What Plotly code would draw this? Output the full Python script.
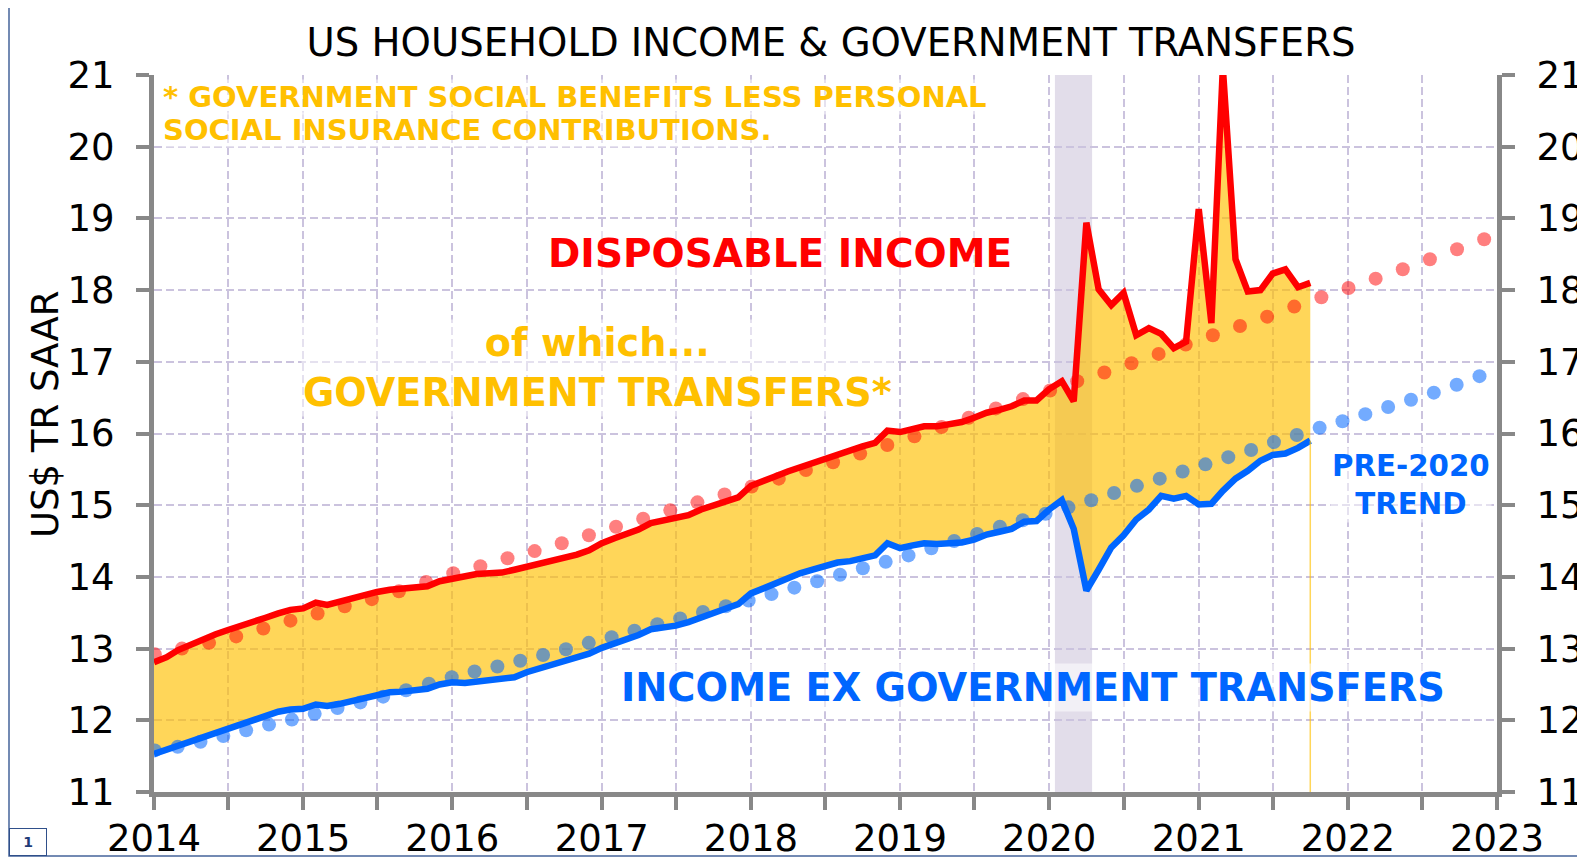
import plotly.graph_objects as go
import pandas as pd

# ---------------- data ----------------
START_MONTH = "2014-01-01"
disposable_income = [
    12.81, 12.88, 12.98, 13.06, 13.13, 13.20, 13.26, 13.31, 13.37, 13.43, 13.49, 13.54,
    13.56, 13.64, 13.61, 13.66, 13.71, 13.76, 13.79, 13.82, 13.84, 13.86, 13.87, 13.94,
    13.98, 14.01, 14.04, 14.05, 14.06, 14.10, 14.14, 14.18, 14.22, 14.27, 14.31, 14.37,
    14.47, 14.54, 14.60, 14.66, 14.75, 14.78, 14.81, 14.86, 14.94, 15.00, 15.06, 15.11,
    15.27, 15.33, 15.40, 15.47, 15.53, 15.59, 15.65, 15.71, 15.76, 15.82, 15.87, 16.04,
    16.02, 16.07, 16.10, 16.10, 16.13, 16.16, 16.22, 16.29, 16.33, 16.38, 16.46, 16.46,
    16.62, 16.73, 16.45, 18.94, 18.01, 17.79, 17.96, 17.37, 17.47, 17.39, 17.19, 17.28,
    19.13, 17.54, 21.10, 18.43, 17.98, 18.00, 18.23, 18.29, 18.04, 18.10,
]
income_ex_transfers = [
    11.53, 11.59, 11.66, 11.72, 11.78, 11.83, 11.88, 11.94, 12.00, 12.06, 12.12, 12.15,
    12.16, 12.22, 12.20, 12.23, 12.27, 12.32, 12.36, 12.39, 12.40, 12.42, 12.44, 12.50,
    12.53, 12.52, 12.54, 12.56, 12.57, 12.60, 12.67, 12.72, 12.77, 12.82, 12.87, 12.93,
    13.01, 13.07, 13.13, 13.19, 13.27, 13.29, 13.32, 13.37, 13.44, 13.50, 13.56, 13.62,
    13.77, 13.84, 13.91, 13.98, 14.05, 14.10, 14.15, 14.20, 14.22, 14.26, 14.30, 14.47,
    14.40, 14.44, 14.47, 14.46, 14.47, 14.48, 14.52, 14.59, 14.63, 14.67, 14.77, 14.78,
    14.94, 15.07, 14.67, 13.81, 14.10, 14.41, 14.58, 14.80, 14.94, 15.13, 15.09, 15.13,
    15.01, 15.02, 15.20, 15.37, 15.48, 15.62, 15.70, 15.72, 15.80, 15.90,
]
# pre-2020 trend lines, read dot by dot
TREND_START = "2014-01-03"
trend_disposable = [
    12.92, 13.00, 13.08, 13.17, 13.28, 13.39, 13.49, 13.59, 13.69, 13.80, 13.93,
    14.05, 14.15, 14.26, 14.36, 14.47, 14.58, 14.70, 14.81, 14.93, 15.04, 15.15,
    15.26, 15.37, 15.49, 15.60, 15.72, 15.84, 15.96, 16.09, 16.22, 16.35, 16.48, 16.60,
    16.73, 16.85, 16.98, 17.11, 17.24, 17.37, 17.50, 17.63, 17.77,
    17.90, 18.03, 18.16, 18.29, 18.43, 18.57, 18.71,
]
trend_ex_transfers = [
    11.58, 11.63, 11.70, 11.78, 11.86, 11.94, 12.01, 12.09, 12.17, 12.25, 12.33, 12.42, 12.51,
    12.60,
    12.68, 12.75, 12.83, 12.91, 12.99, 13.08, 13.16, 13.25, 13.34, 13.42, 13.51, 13.59,
    13.67, 13.76, 13.85, 13.94, 14.03, 14.12, 14.21, 14.30, 14.40, 14.50, 14.60, 14.70, 14.79, 14.88,
    14.97, 15.07, 15.17, 15.27, 15.37, 15.47, 15.57, 15.67, 15.77, 15.88, 15.98,
    16.08, 16.17, 16.27, 16.37, 16.47, 16.57, 16.68, 16.80,
]
year_labels = ["2014", "2015", "2016", "2017", "2018", "2019", "2020", "2021", "2022", "2023"]
y_range = [11, 21]
recession = ("2020-01-15", "2020-04-15")
footnote_lines = ["* GOVERNMENT SOCIAL BENEFITS LESS PERSONAL", "SOCIAL INSURANCE CONTRIBUTIONS."]

# ---------------- styles ----------------
RED = "#FF0000"
BLUE = "#0066FF"
GOLD = "#FFC000"
FILL = "rgba(255,192,0,0.65)"
GRID = "#CBC3DE"
AXIS = "#888888"
FONT = "DejaVu Sans"
PAGE_OFFSET = 8          # default body margin of the html page
FIG_W, FIG_H = 1585 - PAGE_OFFSET, 858 - PAGE_OFFSET
# plot area wanted in page pixels: x 154..1497, y 75..792
PL, PR, PT, PB = 154, 1497, 75, 792

months = pd.date_range(START_MONTH, periods=len(disposable_income), freq="MS")
trend_d_dates = pd.date_range(TREND_START, periods=len(trend_disposable), freq=pd.Timedelta(days=66.4))
trend_e_dates = pd.date_range(TREND_START, periods=len(trend_ex_transfers), freq=pd.Timedelta(days=55.9))

tickvals, ticktext = [], []
for lab in year_labels:
    tickvals.append(f"{lab}-01-01")
    ticktext.append(lab)
    if lab != year_labels[-1]:
        tickvals.append(f"{lab}-07-01")
        ticktext.append("")

fig = go.Figure()
# band between the two series (government transfers)
fig.add_trace(go.Scatter(x=months, y=income_ex_transfers, mode="lines",
                         line=dict(width=0, color=FILL), showlegend=False, hoverinfo="skip"))
fig.add_trace(go.Scatter(x=months, y=disposable_income, mode="lines", fill="tonexty",
                         fillcolor=FILL, line=dict(width=0, color=FILL), showlegend=False,
                         hoverinfo="skip"))
# thin drop line at the end of the band
fig.add_trace(go.Scatter(x=[months[-1], months[-1]], y=[income_ex_transfers[-1], y_range[0]],
                         mode="lines", line=dict(width=1.5, color=FILL), showlegend=False,
                         hoverinfo="skip", yaxis="y2"))
# trend dots
fig.add_trace(go.Scatter(x=trend_d_dates, y=trend_disposable, mode="markers",
                         marker=dict(size=14, color="rgba(255,0,0,0.5)", line_width=0),
                         showlegend=False))
fig.add_trace(go.Scatter(x=trend_e_dates, y=trend_ex_transfers, mode="markers",
                         marker=dict(size=14, color="rgba(0,102,255,0.55)", line_width=0),
                         showlegend=False))
# main lines
fig.add_trace(go.Scatter(x=months, y=income_ex_transfers, mode="lines",
                         line=dict(width=6.5, color=BLUE), showlegend=False))
fig.add_trace(go.Scatter(x=months, y=disposable_income, mode="lines",
                         line=dict(width=6.5, color=RED), showlegend=False))

fig.add_shape(type="rect", xref="x", yref="paper", x0=recession[0], x1=recession[1],
              y0=0, y1=1, fillcolor="#E2DDEA", line_width=0, layer="between")

axis_common = dict(showline=True, linecolor=AXIS, linewidth=5, ticks="outside",
                   ticklen=13, tickwidth=4, tickcolor=AXIS, automargin=False,
                   tickfont=dict(family=FONT, size=37, color="black"))

fig.update_layout(
    width=FIG_W, height=FIG_H,
    margin=dict(l=PL - PAGE_OFFSET, r=PAGE_OFFSET + FIG_W - PR, t=PT - PAGE_OFFSET,
                b=PAGE_OFFSET + FIG_H - PB, autoexpand=False),
    paper_bgcolor="white", plot_bgcolor="white",
    title=dict(text="US HOUSEHOLD INCOME & GOVERNMENT TRANSFERS",
               x=(831 - PAGE_OFFSET) / FIG_W, xanchor="center",
               y=1 - (42.5 - PAGE_OFFSET) / FIG_H, yanchor="middle",
               font=dict(family=FONT, size=38.6, color="black")),
    xaxis=dict(range=["2014-01-01", "2023-01-01"], tickmode="array", tickvals=tickvals,
               ticktext=ticktext, showgrid=True, gridcolor=GRID, gridwidth=2,
               griddash="8px,4px", zeroline=False, ticklabelstandoff=-3, **axis_common),
    yaxis=dict(range=y_range, dtick=1, showgrid=True, gridcolor=GRID, gridwidth=2,
               griddash="8px,4px", zeroline=False, ticklabelstandoff=14, **axis_common),
    yaxis2=dict(range=y_range, dtick=1, overlaying="y", side="right", showgrid=False,
                zeroline=False, ticklabelstandoff=14, **axis_common),
)

def px_x(p):
    return (p - PL) / (PR - PL)

def px_y(p):
    return (PB - p) / (PB - PT)

ann = [
    dict(text=footnote_lines[0], x=px_x(162), y=px_y(96.5), xanchor="left", yanchor="middle",
         font=dict(family=FONT, size=29, color=GOLD, weight="bold"),
         bgcolor="rgba(255,255,255,0.5)", borderpad=0),
    dict(text=footnote_lines[1], x=px_x(162), y=px_y(130), xanchor="left", yanchor="middle",
         font=dict(family=FONT, size=29, color=GOLD, weight="bold"),
         bgcolor="rgba(255,255,255,0.5)", borderpad=0),
    dict(text="DISPOSABLE INCOME", x=px_x(780), y=px_y(253), xanchor="center", yanchor="middle",
         font=dict(family=FONT, size=39, color=RED, weight="bold"),
         bgcolor="rgba(255,255,255,0.5)"),
    dict(text="of which...<br>GOVERNMENT TRANSFERS*", x=px_x(597), y=px_y(368),
         xanchor="center", yanchor="middle", align="center",
         font=dict(family=FONT, size=38.2, color=GOLD, weight="bold"),
         bgcolor="rgba(255,255,255,0.5)"),
    dict(text="INCOME EX GOVERNMENT TRANSFERS", x=px_x(1033), y=px_y(687),
         xanchor="center", yanchor="middle",
         font=dict(family=FONT, size=38.3, color=BLUE, weight="bold"),
         bgcolor="rgba(255,255,255,0.55)"),
    dict(text="PRE-2020<br>TREND", x=px_x(1411), y=px_y(485), xanchor="center",
         yanchor="middle", align="center",
         font=dict(family=FONT, size=29.3, color=BLUE, weight="bold"),
         bgcolor="rgba(255,255,255,0.5)"),
    dict(text="US$ TR SAAR", x=px_x(45), y=px_y(415), xanchor="center", yanchor="middle",
         textangle=-90, font=dict(family=FONT, size=37, color="black")),
    dict(text="1", x=px_x(28), y=px_y(842), xanchor="center", yanchor="middle",
         width=34, height=24, bordercolor="#2F4F8A", borderwidth=1,
         font=dict(family=FONT, size=14, color="#1F3C78", weight="bold")),
]
for a in ann:
    fig.add_annotation(xref="paper", yref="paper", showarrow=False, **a)

# outer frame
fig.add_shape(type="rect", xref="paper", yref="paper", x0=px_x(9), x1=px_x(1582),
              y0=px_y(856), y1=px_y(7), line=dict(color="#46649A", width=1.5),
              fillcolor="rgba(0,0,0,0)", layer="above")

fig.write_html("out.html")
